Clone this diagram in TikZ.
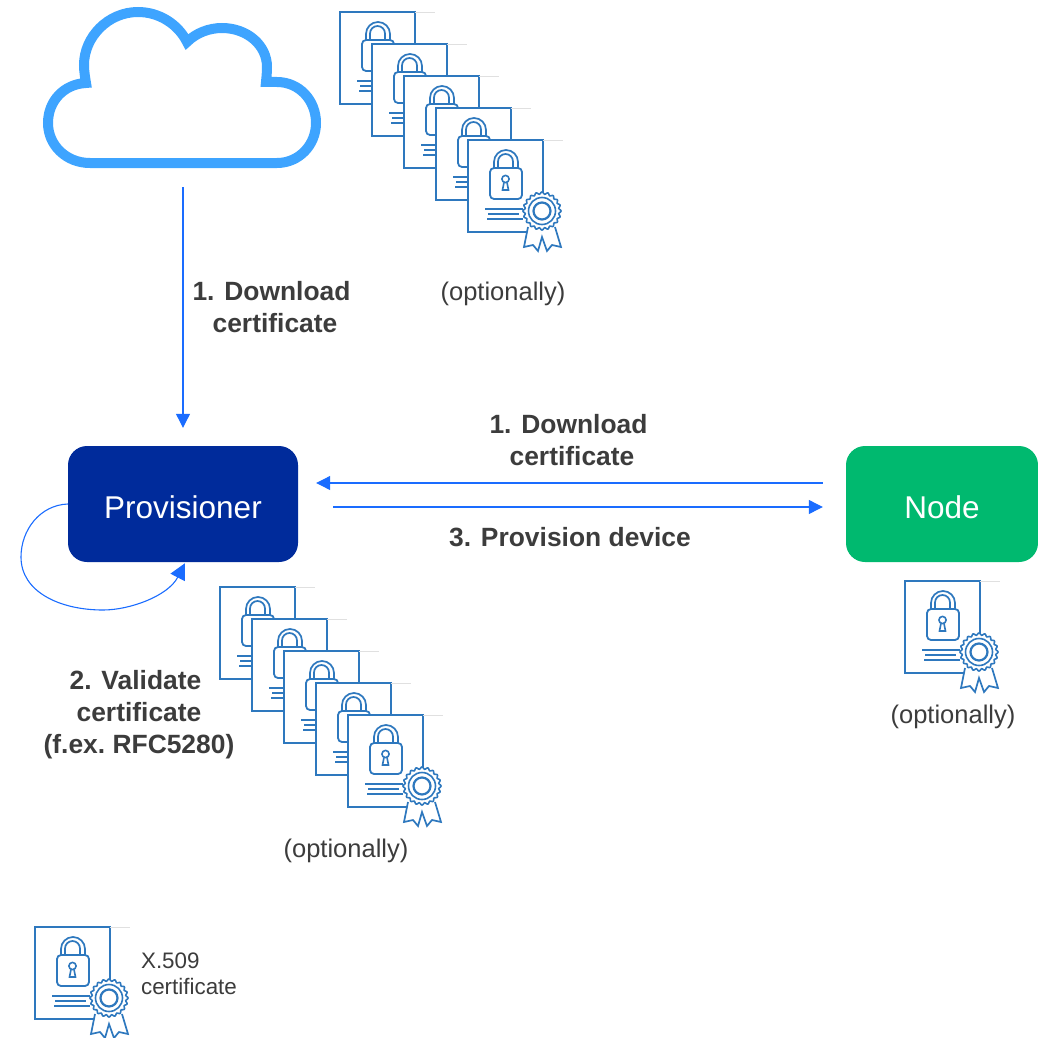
\documentclass[tikz,border=0pt]{standalone}
\usepackage{fontspec}
\setmainfont{Liberation Sans}
\usetikzlibrary{arrows.meta}

\definecolor{certblue}{HTML}{2E78BE}
\definecolor{cloudblue}{HTML}{3EA4FF}
\definecolor{arrowblue}{HTML}{1A6CFF}
\definecolor{provblue}{HTML}{002B9B}
\definecolor{nodegreen}{HTML}{00B96F}
\definecolor{labelgray}{HTML}{3C3C3C}

\tikzset{
	cert/.pic={
		% Draw the sheet
		\draw[certblue, line width=2.2pt, fill=white] (0,0) rectangle (75,92);
		\draw[black!12, line width=0.8pt] (75,0) -- (95,0);
		% Draw the lock
		\draw[certblue, line width=1.7pt, rounded corners=12pt] (26,28) -- (26,10) -- (50,10) -- (50,28);
		\draw[certblue, line width=1.7pt, rounded corners=7.5pt] (30,28) -- (30,14) -- (45,14) -- (45,28);
		\draw[certblue, line width=1.8pt, fill=white, rounded corners=4pt] (22,28) rectangle (54,59);
		\draw[certblue, line width=1.6pt] (37.5,39) circle (3.6);
		\draw[certblue, line width=1.6pt] (36,42.5) -- (34.5,50) -- (40.5,50) -- (39,42.5);
		% Draw the text lines
		\draw[certblue, line width=1.5pt] (17,69) -- (55,69);
		\draw[certblue, line width=1.5pt] (20,74) -- (51,74);
		\draw[certblue, line width=1.5pt] (19,79) -- (55,79);
		% Draw the ribbon and the seal
		\draw[certblue, line width=1.7pt, fill=white] (60,87) -- (56,107) -- (65,105) -- (70,111) -- (74,97)
			-- (79,111) -- (84,105) -- (93,107) -- (87,87);
		\draw[certblue, line width=1.6pt, fill=white] plot[domain=0:360, samples=161, smooth]
			({74+(18+1*cos(20*\x))*cos(\x)}, {71+(18+1*cos(20*\x))*sin(\x)}) -- cycle;
		\draw[certblue, line width=1.6pt] (74,71) circle (13.5);
		\draw[certblue, line width=2.2pt] (74,71) circle (8.5);
	},
	box/.style={rounded corners=19pt, inner sep=0pt, text=white, text height=28pt, text depth=0pt, font=\fontsize{31.5}{36}\selectfont},
	step label/.style={text=labelgray, align=center, font=\fontsize{26.4}{32}\selectfont\bfseries},
	note label/.style={text=labelgray, font=\fontsize{25.5}{30}\selectfont},
	conn/.style={arrowblue, line width=1.1pt, -{Triangle[length=14pt, width=14pt]}},
}

\begin{document}
\begin{tikzpicture}[x=1pt, y=-1pt]
	\useasboundingbox (0,0) rectangle (1038,1038);

	% Draw the cloud
	\draw[cloudblue, line width=10pt, fill=white, miter limit=10] (90,163) -- (277,163)
		.. controls (299,163) and (316,145) .. (316,123)
		.. controls (316,100) and (299,82) .. (277,82) -- (266,82)
		.. controls (266.5,77) and (267,72) .. (267,67)
		.. controls (267,45) and (247,28) .. (222,28)
		.. controls (209,28) and (196,33) .. (187,42)
		.. controls (178,24) and (159,12) .. (138,12)
		.. controls (108,12) and (84,37) .. (84,65)
		.. controls (84,71) and (85,77) .. (86,83)
		.. controls (64,84) and (48,101) .. (48,123)
		.. controls (48,145) and (66,163) .. (90,163) -- cycle;
	\coordinate (cloudbase) at (183,168);

	% Draw the boxes
	\node[box, fill=provblue, minimum width=230pt, minimum height=116pt] (provisioner) at (183,504) {Provisioner};
	\node[box, fill=nodegreen, minimum width=192pt, minimum height=116pt] (device) at (942,504) {Node};

	% Draw the certificate stacks
	\foreach \i in {0,...,4} {
		\pic at ({340+32*\i},{12+32*\i}) {cert};
		\pic at ({220+32*\i},{587+32*\i}) {cert};
	}
	\pic at (905,581) {cert};
	\pic at (35,927) {cert};

	% Draw the arrows
	\draw[conn, shorten <=19pt, shorten >=18pt] (cloudbase) -- (provisioner.north);
	\draw[conn, shorten <=23pt, shorten >=18pt] ([yshift=21pt]device.west) -- ([yshift=21pt]provisioner.east);
	\draw[conn, shorten <=35pt, shorten >=23pt] ([yshift=-3pt]provisioner.east) -- ([yshift=-3pt]device.west);
	\draw[conn, -{Triangle[length=16pt, width=16pt]}] (provisioner.west) .. controls (40,505) and (21,530) .. (21,557)
		.. controls (21,592) and (60,610) .. (103,610)
		.. controls (130,610) and (168,596) .. ([xshift=2pt, yshift=-1pt]provisioner.south);

	% Draw the labels
	\node[step label] (cloudstep) at (275,307) {1. Download\kern7pt\\certificate};
	\node[step label] (downstep) at (572,440) {1. Download\kern7pt\\certificate};
	\node[step label] (provstep) at (570,537) {3. Provision device};
	\node[step label] (checkstep) at (139,715) {2. Validate\kern7pt\\certificate\\(f.ex.\ RFC5280)};
	\node[note label] (note1) at (503,294) {(optionally)};
	\node[note label] (note2) at (346,851) {(optionally)};
	\node[note label] (note3) at (953,717) {(optionally)};
	\node[text=labelgray, align=left, font=\fontsize{22.4}{26}\selectfont] (legend) at (189,974) {X.509\\certificate};
\end{tikzpicture}
\end{document}
